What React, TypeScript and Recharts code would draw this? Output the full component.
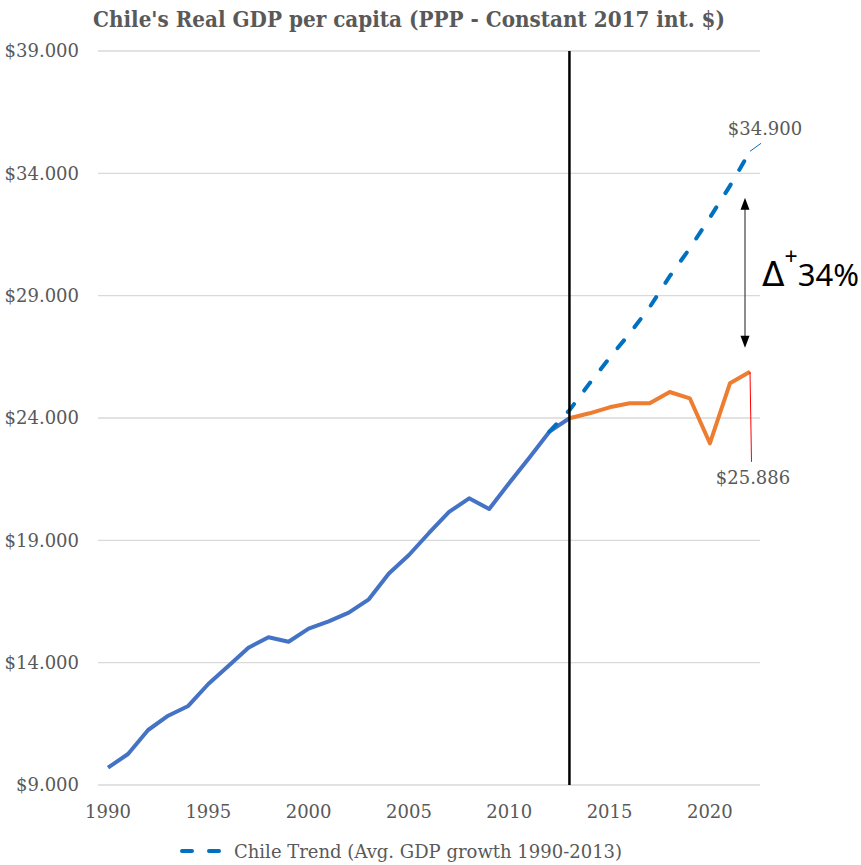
import React from 'react';
import { LineChart, Line, XAxis, YAxis, CartesianGrid, ReferenceLine, Legend } from 'recharts';

// ---- data ----
const firstYear = 1990;
const lastYear = 2022;
const splitYear = 2013;
const trendStartYear = 2012;

// Chile real GDP per capita, 1990-2013 (blue)
const gdpBefore = [
  9707, 10267, 11248, 11833, 12230, 13128, 13864, 14612, 15037, 14857,
  15389, 15691, 16043, 16590, 17645, 18400, 19300, 20160, 20718, 20280,
  21344, 22377, 23440, 23990,
];
// Chile real GDP per capita, 2013-2022 (orange)
const gdpAfter = [23990, 24192, 24437, 24601, 24601, 25063, 24805, 22966, 25418, 25886];
// Trend (avg. GDP growth 1990-2013), 2012-2022 (dashed)
const trendValues = [23440, 24317, 25414, 26460, 27454, 28530, 29796, 30936, 32190, 33487, 34900];

const yTicks = [9000, 14000, 19000, 24000, 29000, 34000, 39000];
const titleText = "Chile's Real GDP per capita (PPP - Constant 2017 int. $)";
const trendName = 'Chile Trend (Avg. GDP growth 1990-2013)';
const trendEndLabel = '$34.900';
const actualEndLabel = '$25.886';
const gapLabel = '34%';

const years: number[] = [];
for (let y = firstYear; y <= lastYear; y++) years.push(y);

const data = years.map((year) => ({
  year,
  before: year <= splitYear ? gdpBefore[year - firstYear] : null,
  after: year >= splitYear ? gdpAfter[year - splitYear] : null,
  trend: year >= trendStartYear ? trendValues[year - trendStartYear] : null,
}));

const lastIndex = years.length - 1;

const fmtMoney = (v: number) => {
  const s = Math.round(v).toString();
  return '$' + s.replace(/\B(?=(\d{3})+(?!\d))/g, '.');
};

const GRAY = '#595959';
const SERIF = "'DejaVu Serif', serif";

const trendLabel = (p: any) => {
  const { x, y, index } = p;
  if (index !== lastIndex || x == null || y == null) return <g key={`tl-${index}`} />;
  return (
    <g key={`tl-${index}`}>
      <line x1={x} y1={y} x2={x + 11} y2={y - 8} stroke="#0070C0" strokeWidth={1} />
      <text x={x + 15} y={y - 23} textAnchor="middle" dominantBaseline="central"
        fontFamily={SERIF} fontSize={18} fill={GRAY}>{trendEndLabel}</text>
    </g>
  );
};

const afterLabel = (p: any) => {
  const { x, y, index } = p;
  if (index !== lastIndex || x == null || y == null) return <g key={`al-${index}`} />;
  const ax = x - 5;
  return (
    <g key={`al-${index}`}>
      <line x1={x} y1={y} x2={x + 1.5} y2={y + 90} stroke="#FF0000" strokeWidth={1} />
      <text x={x + 3} y={y + 106} textAnchor="middle" dominantBaseline="central"
        fontFamily={SERIF} fontSize={18} fill={GRAY}>{actualEndLabel}</text>
      <line x1={ax} y1={y - 164} x2={ax} y2={y - 34} stroke="#404040" strokeWidth={1.2} />
      <polygon points={`${ax},${y - 174} ${ax - 4.5},${y - 162} ${ax + 4.5},${y - 162}`} fill="#000" />
      <polygon points={`${ax},${y - 24} ${ax - 4.5},${y - 36} ${ax + 4.5},${y - 36}`} fill="#000" />
      <text x={x + 12} y={y - 86} fontFamily="'Noto Sans', sans-serif" fontSize={31} fill="#000">
        <tspan fontFamily="'DejaVu Sans', sans-serif" fontSize={33}>Δ</tspan>
        <tspan dy={-21} fontSize={23}>+</tspan>
        <tspan dy={21} fontSize={31}>{gapLabel}</tspan>
      </text>
    </g>
  );
};

const renderLegend = () => (
  <div style={{ width: 861, height: 26, display: 'flex', alignItems: 'center', paddingLeft: 180, boxSizing: 'border-box' }}>
    <svg width={46} height={10} style={{ display: 'block' }}>
      <path d="M2,5 L44,5" stroke="#0070C0" strokeWidth={4} strokeDasharray="10 17" strokeLinecap="round" fill="none" />
    </svg>
    <span style={{ marginLeft: 8, fontFamily: SERIF, fontSize: 18, color: GRAY, whiteSpace: 'nowrap' }}>{trendName}</span>
  </div>
);

export default function App() {
  return (
    <div style={{ position: 'absolute', left: 0, top: 0, width: 861, height: 865, background: '#fff' }}>
      <svg width={861} height={46} style={{ position: 'absolute', left: 0, top: 0 }}>
        <text x={93} y={27} fontFamily={SERIF} fontWeight="bold" fontSize={23} fill={GRAY}
          textLength={632} lengthAdjust="spacingAndGlyphs">{titleText}</text>
      </svg>
      <LineChart width={861} height={865} data={data} margin={{ top: 51, right: 101, bottom: 1, left: 0 }}>
        <CartesianGrid horizontal vertical={false} stroke="#d9d9d9" strokeWidth={1.3} />
        <XAxis dataKey="year" type="category" interval={4} padding={{ left: 10, right: 10 }}
          height={53} axisLine={false} tickLine={false} tickSize={0} tickMargin={20}
          tick={{ fill: GRAY, fontSize: 18, fontFamily: SERIF }} />
        <YAxis width={98} domain={[9000, 39000]} ticks={yTicks} type="number" allowDataOverflow
          axisLine={false} tickLine={false} tickSize={0} tickMargin={19} tickFormatter={fmtMoney}
          tick={{ fill: GRAY, fontSize: 18, fontFamily: SERIF }} />
        <Legend verticalAlign="bottom" align="left" wrapperStyle={{ left: 0, width: 861 }} content={renderLegend} />
        <Line dataKey="before" stroke="#4472C4" strokeWidth={4} dot={false} activeDot={false}
          strokeLinejoin="round" isAnimationActive={false} legendType="none" />
        <Line dataKey="after" stroke="#ED7D31" strokeWidth={4} dot={false} activeDot={false}
          strokeLinejoin="round" isAnimationActive={false} legendType="none" label={afterLabel} />
        <Line dataKey="trend" name={trendName} stroke="#0070C0" strokeWidth={4} strokeDasharray="10 17"
          strokeLinecap="round" dot={false} activeDot={false} isAnimationActive={false} label={trendLabel} />
        <ReferenceLine x={splitYear} stroke="#000" strokeWidth={2.5} />
      </LineChart>
    </div>
  );
}
